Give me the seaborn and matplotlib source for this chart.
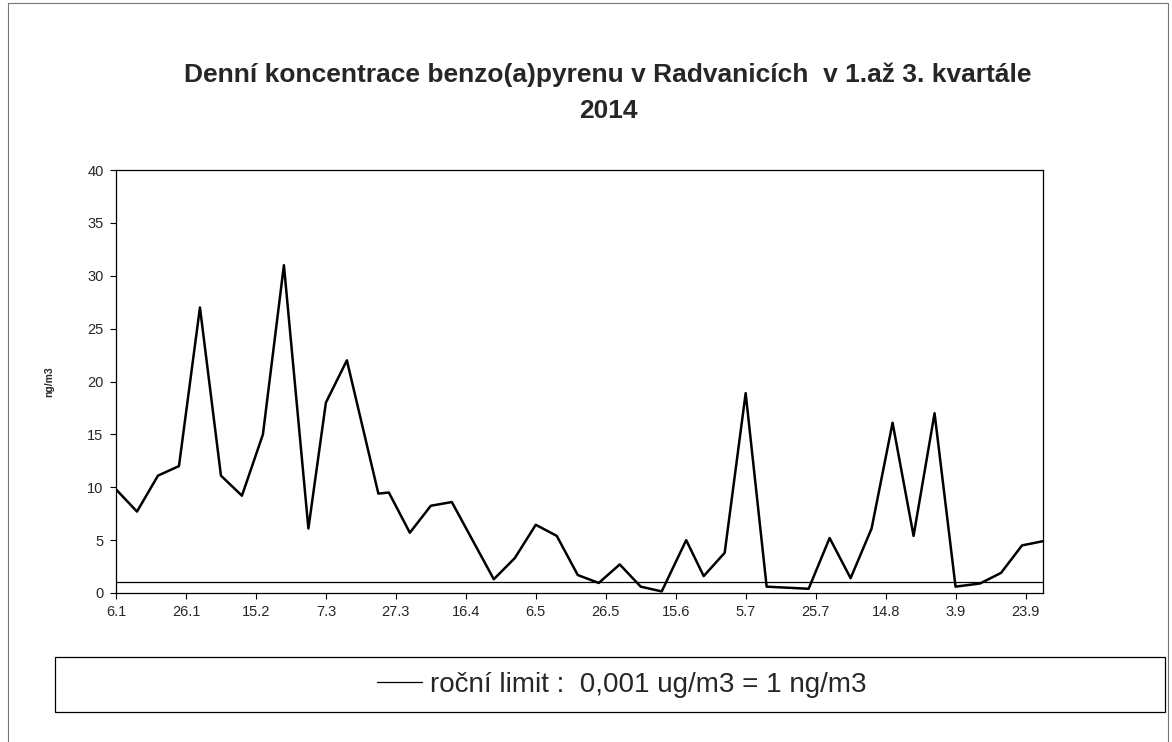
import numpy as np
import pandas as pd
import matplotlib
matplotlib.use("Agg")
import matplotlib.pyplot as plt
import matplotlib.dates as mdates
from matplotlib.lines import Line2D
from matplotlib.patches import Rectangle
import seaborn as sns

# ---- data ----
dates = ["2014-01-06", "2014-01-12", "2014-01-18", "2014-01-24", "2014-01-30",
         "2014-02-05", "2014-02-11", "2014-02-17", "2014-02-23", "2014-03-02",
         "2014-03-07", "2014-03-13", "2014-03-22", "2014-03-25", "2014-03-31",
         "2014-04-06", "2014-04-12", "2014-04-24", "2014-04-30", "2014-05-06",
         "2014-05-12", "2014-05-18", "2014-05-24", "2014-05-30", "2014-06-05",
         "2014-06-11", "2014-06-18", "2014-06-23", "2014-06-29", "2014-07-05",
         "2014-07-11", "2014-07-23", "2014-07-29", "2014-08-04", "2014-08-10",
         "2014-08-16", "2014-08-22", "2014-08-28", "2014-09-03", "2014-09-10",
         "2014-09-16", "2014-09-22", "2014-09-28"]
values = [9.8, 7.7, 11.1, 12.0, 27.0,
          11.1, 9.2, 15.0, 31.0, 6.1,
          18.0, 22.0, 9.4, 9.5, 5.7,
          8.25, 8.6, 1.3, 3.3, 6.45,
          5.4, 1.7, 0.95, 2.7, 0.6,
          0.15, 5.0, 1.6, 3.8, 18.9,
          0.6, 0.4, 5.2, 1.4, 6.1,
          16.1, 5.4, 17.0, 0.6, 0.9,
          1.9, 4.5, 4.9]
limit_value = 1.0
x_tick_labels = ["6.1", "26.1", "15.2", "7.3", "27.3", "16.4", "6.5",
                 "26.5", "15.6", "5.7", "25.7", "14.8", "3.9", "23.9"]
y_ticks = [0, 5, 10, 15, 20, 25, 30, 35, 40]

title_line1 = "Denní koncentrace benzo(a)pyrenu v Radvanicích  v 1.až 3. kvartále"
title_line2 = "2014"
y_label = "ng/m3"
legend_label = "roční limit :  0,001 ug/m3 = 1 ng/m3"

df = pd.DataFrame({"date": pd.to_datetime(dates), "value": values})

# ---- style ----
sns.set_style("white")
plt.rcParams["font.family"] = ["Liberation Sans", "DejaVu Sans"]

fig = plt.figure(figsize=(11.72, 7.42), dpi=100)
ax = fig.add_axes([116 / 1172, 1 - 593 / 742, (1043 - 116) / 1172, (593 - 170) / 742])

sns.lineplot(data=df, x="date", y="value", ax=ax, color="black", linewidth=1.8)
ax.axhline(limit_value, color="black", linewidth=0.9)

ax.set_xlim(df["date"].min(), df["date"].max())
ax.set_ylim(0, 40)
ax.set_yticks(y_ticks)
ax.set_yticklabels([str(v) for v in y_ticks], fontsize=10.5)

tick_dates = pd.date_range(df["date"].min(), periods=len(x_tick_labels), freq="20D")
ax.set_xticks(mdates.date2num(tick_dates))
ax.set_xticklabels(x_tick_labels, fontsize=10.5)

ax.tick_params(axis="both", direction="out", length=4, width=0.8, color="black",
               bottom=True, left=True, pad=5)
ax.set_xlabel("")
ax.set_ylabel(y_label, fontsize=7.5, fontweight="bold", labelpad=24)
for s in ax.spines.values():
    s.set_visible(True)
    s.set_color("black")
    s.set_linewidth(0.9)

fig.text(608 / 1172, 1 - 75 / 742, title_line1, ha="center", va="center",
         fontsize=19, fontweight="bold")
fig.text(608 / 1172, 1 - 111 / 742, title_line2, ha="center", va="center",
         fontsize=19, fontweight="bold")

# outer chart border
fig.patches.append(Rectangle((8 / 1172, -0.02), 1 - 12 / 1172, 1.0 - 3 / 742 + 0.02,
                             transform=fig.transFigure, fill=False,
                             edgecolor="#777777", linewidth=0.8))
# legend box
fig.patches.append(Rectangle((55 / 1172, 1 - 712 / 742), (1165 - 55) / 1172, 55 / 742,
                             transform=fig.transFigure, fill=False,
                             edgecolor="black", linewidth=0.9))
handle = Line2D([], [], color="black", linewidth=0.9)
fig.legend([handle], [legend_label], loc="center",
           bbox_to_anchor=(622 / 1172, 1 - 685 / 742), frameon=False,
           fontsize=20, handlelength=1.6, handletextpad=0.3)

fig.savefig("out.png", dpi=100)
